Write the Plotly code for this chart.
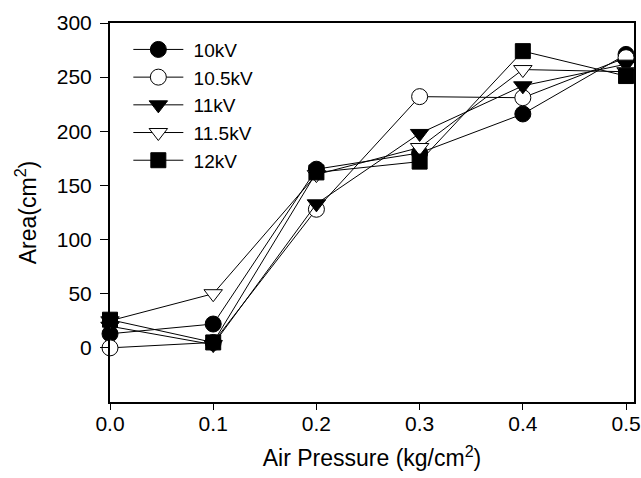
import plotly.graph_objects as go

pressure = [0.0, 0.1, 0.2, 0.3, 0.4, 0.5]
series_names = ["10kV", "10.5kV", "11kV", "11.5kV", "12kV"]
area_10kV = [13, 22, 165, 180, 216, 271]
area_10_5kV = [0, 5, 128, 232, 231, 268]
area_11kV = [20, 3, 133, 198, 242, 262]
area_11_5kV = [25, 50, 160, 185, 257, 255]
area_12kV = [26, 5, 162, 172, 274, 251]
x_ticks = [0.0, 0.1, 0.2, 0.3, 0.4, 0.5]
y_ticks = [0, 50, 100, 150, 200, 250, 300]

values = [area_10kV, area_10_5kV, area_11kV, area_11_5kV, area_12kV]
symbols = ["circle", "circle", "triangle-down", "triangle-down", "square"]
fills = ["black", "white", "black", "white", "black"]
sizes = [16, 16, 16, 16, 15]

fig = go.Figure()
for name, vals, sym, fc, sz in zip(series_names, values, symbols, fills, sizes):
    fig.add_trace(go.Scatter(
        x=pressure, y=vals, name="\u00a0" + name, mode="lines+markers", cliponaxis=False,
        line=dict(color="black", width=1),
        marker=dict(symbol=sym, size=sz, color=fc, line=dict(color="black", width=1)),
    ))

font = "Liberation Sans, Arial, sans-serif"
fig.update_layout(
    width=641, height=478,
    margin=dict(l=110, r=7, t=23, b=76),
    paper_bgcolor="white", plot_bgcolor="white",
    font=dict(family=font, size=21, color="black"),
    showlegend=True,
    legend=dict(x=0.035, y=0.98, xanchor="left", yanchor="top",
                bgcolor="rgba(0,0,0,0)", font=dict(size=19),
                itemwidth=50, tracegroupgap=0),
    xaxis=dict(range=[0, 0.5077], tickvals=x_ticks, ticktext=[f"{v:.1f}" for v in x_ticks],
               ticklabelstandoff=-4,
               showgrid=False, zeroline=False, showline=True, linecolor="black", linewidth=2,
               mirror=True, ticks="outside", ticklen=6, tickcolor="black", automargin=False,
               title=dict(text="Air Pressure (kg/cm<sup>2</sup>)", font=dict(size=23), standoff=16)),
    yaxis=dict(range=[-50, 300], tickvals=y_ticks, ticklabelstandoff=4,
               showgrid=False, zeroline=False, showline=True, linecolor="black", linewidth=2,
               mirror=True, ticks="outside", ticklen=8, tickcolor="black", automargin=False,
               title=dict(text="Area(cm<sup>2</sup>)", font=dict(size=23), standoff=14)),
)

fig.write_html("out.html", config={"displayModeBar": False},
               post_script="document.body.style.margin='0';document.body.style.padding='0';")
